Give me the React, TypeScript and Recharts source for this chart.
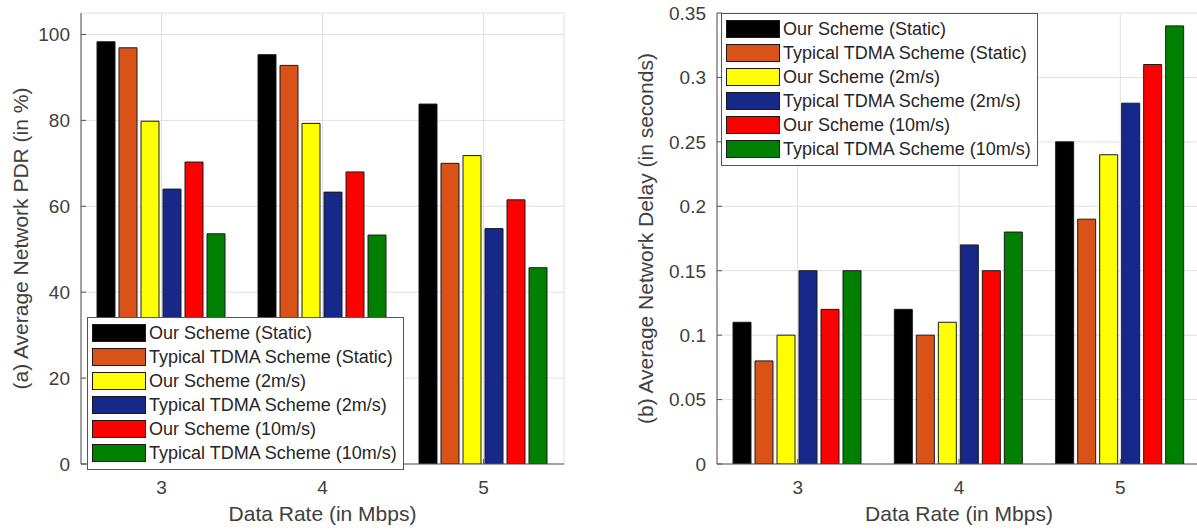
import React from 'react';
import { BarChart, Bar, XAxis, YAxis, CartesianGrid, Legend } from 'recharts';

const rates = ['3', '4', '5'];

const seriesNames = [
  'Our Scheme (Static)',
  'Typical TDMA Scheme (Static)',
  'Our Scheme (2m/s)',
  'Typical TDMA Scheme (2m/s)',
  'Our Scheme (10m/s)',
  'Typical TDMA Scheme (10m/s)',
];
const seriesColors = ['#000000', '#D95319', '#FFFF00', '#16298A', '#FF0000', '#008000'];

// (a) average network PDR, %
const pdrOurStatic = [98.3, 95.3, 83.8];
const pdrTdmaStatic = [96.9, 92.8, 70.0];
const pdrOur2 = [79.8, 79.3, 71.8];
const pdrTdma2 = [64.0, 63.3, 54.8];
const pdrOur10 = [70.3, 68.0, 61.5];
const pdrTdma10 = [53.6, 53.3, 45.7];

// (b) average network delay, seconds
const delayOurStatic = [0.11, 0.12, 0.25];
const delayTdmaStatic = [0.08, 0.1, 0.19];
const delayOur2 = [0.1, 0.11, 0.24];
const delayTdma2 = [0.15, 0.17, 0.28];
const delayOur10 = [0.12, 0.15, 0.31];
const delayTdma10 = [0.15, 0.18, 0.34];

const pdrTicks = [0, 20, 40, 60, 80, 100];
const delayTicks = [0, 0.05, 0.1, 0.15, 0.2, 0.25, 0.3, 0.35];

const FONT = '"Liberation Sans", Arial, Helvetica, sans-serif';
const FRAME = '#555555';
const TEXT = '#404040';
const GRID = '#e0e0e0';
const TICK_LEN = 5;

const buildRows = (series: number[][]) =>
  rates.map((rate, i) => {
    const row: Record<string, string | number> = { rate };
    series.forEach((s, k) => {
      row['s' + k] = s[i];
    });
    return row;
  });

const pdrData = buildRows([pdrOurStatic, pdrTdmaStatic, pdrOur2, pdrTdma2, pdrOur10, pdrTdma10]);
const delayData = buildRows([delayOurStatic, delayTdmaStatic, delayOur2, delayTdma2, delayOur10, delayTdma10]);

const LeftTick = (props: any) => {
  const { x, y, payload } = props;
  const m = 11;
  return (
    <g>
      <line x1={x + m} x2={x + m + TICK_LEN} y1={y} y2={y} stroke={FRAME} />
      <text x={x} y={y} dy="0.36em" textAnchor="end" fontSize={19} fill={TEXT} fontFamily={FONT}>
        {payload.value}
      </text>
    </g>
  );
};

const BottomTick = (props: any) => {
  const { x, y, payload } = props;
  const m = 17;
  return (
    <g>
      <line x1={x} x2={x} y1={y - m} y2={y - m - TICK_LEN} stroke={FRAME} />
      <text x={x} y={y} dy="0.71em" textAnchor="middle" fontSize={19} fill={TEXT} fontFamily={FONT}>
        {payload.value}
      </text>
    </g>
  );
};

const TopTick = (props: any) => {
  const { x, y } = props;
  return <line x1={x} x2={x} y1={y} y2={y + TICK_LEN} stroke={FRAME} />;
};

const RightTick = (props: any) => {
  const { x, y } = props;
  return <line x1={x} x2={x - TICK_LEN} y1={y} y2={y} stroke={FRAME} />;
};

const yTitle = (text: string, baseX: number) => (props: any) => {
  const vb = props.viewBox || {};
  const cy = vb.y + vb.height / 2;
  return (
    <text
      x={baseX}
      y={cy}
      transform={`rotate(-90, ${baseX}, ${cy})`}
      textAnchor="middle"
      fontSize={21}
      fill={TEXT}
      fontFamily={FONT}
    >
      {text}
    </text>
  );
};

const LegendBox = (props: any) => {
  const { payload, swatchW } = props;
  // keep the series order, not the alphabetical one
  const items = [...(payload || [])].sort(
    (a: any, b: any) => seriesNames.indexOf(a.value) - seriesNames.indexOf(b.value)
  );
  return (
    <div
      style={{
        background: '#ffffff',
        border: `1px solid ${FRAME}`,
        padding: '3px 6px 4px 4px',
        fontFamily: FONT,
        fontSize: 18,
        color: '#262626',
        whiteSpace: 'nowrap',
      }}
    >
      {items.map((entry: any) => (
        <div key={entry.value} style={{ display: 'flex', alignItems: 'center', height: 24 }}>
          <span
            style={{
              display: 'inline-block',
              width: swatchW,
              height: 18,
              background: entry.color,
              border: '1px solid #1a1a1a',
              boxSizing: 'border-box',
              marginRight: 3,
            }}
          />
          <span>{entry.value}</span>
        </div>
      ))}
    </div>
  );
};

interface PanelProps {
  data: Record<string, string | number>[];
  width: number;
  axisWidth: number;
  rightMargin: number;
  domain: [number, number];
  ticks: number[];
  title: string;
  titleX: number;
  legendLeft: number;
  legendTop: number;
}

const Panel = ({ data, width, axisWidth, rightMargin, domain, ticks, title, titleX, legendLeft, legendTop }: PanelProps) => (
  <BarChart
    width={width}
    height={530}
    data={data}
    margin={{ top: 13, right: rightMargin, bottom: 0, left: 0 }}
    barCategoryGap={16}
    barGap={4}
  >
    <CartesianGrid stroke={GRID} />
    <XAxis
      dataKey="rate"
      height={66}
      tickSize={0}
      tickMargin={17}
      tickLine={false}
      axisLine={{ stroke: FRAME }}
      tick={<BottomTick />}
      label={{ value: 'Data Rate (in Mbps)', position: 'insideTop', offset: 42, fontSize: 21, fill: TEXT, fontFamily: FONT }}
    />
    <XAxis
      xAxisId="top"
      dataKey="rate"
      orientation="top"
      height={0}
      tickSize={0}
      tickMargin={0}
      tickLine={false}
      axisLine={{ stroke: FRAME }}
      tick={<TopTick />}
    />
    <YAxis
      width={axisWidth}
      domain={domain}
      ticks={ticks}
      allowDataOverflow
      tickSize={0}
      tickMargin={11}
      tickLine={false}
      axisLine={{ stroke: FRAME }}
      tick={<LeftTick />}
      label={yTitle(title, titleX)}
    />
    <YAxis
      yAxisId="right"
      orientation="right"
      width={0}
      domain={domain}
      ticks={ticks}
      allowDataOverflow
      tickSize={0}
      tickMargin={0}
      tickLine={false}
      axisLine={{ stroke: FRAME }}
      tick={<RightTick />}
    />
    {seriesNames.map((name, k) => (
      <Bar
        key={name}
        dataKey={'s' + k}
        name={name}
        fill={seriesColors[k]}
        stroke="#1a1a1a"
        strokeWidth={1}
        isAnimationActive={false}
      />
    ))}
    <Legend
      layout="vertical"
      align="center"
      verticalAlign="middle"
      wrapperStyle={{ left: legendLeft, top: legendTop, width: 'auto', height: 'auto' }}
      content={(p: any) => <LegendBox {...p} swatchW={54} />}
    />
  </BarChart>
);

export default function App() {
  return (
    <div
      style={{
        position: 'fixed',
        left: 0,
        top: 0,
        width: 1197,
        height: 530,
        overflow: 'hidden',
        background: '#ffffff',
        fontFamily: FONT,
      }}
    >
      <div style={{ position: 'absolute', left: 0, top: 0 }}>
        <Panel
          data={pdrData}
          width={600}
          axisWidth={81}
          rightMargin={36}
          domain={[0, 105]}
          ticks={pdrTicks}
          title="(a) Average Network PDR (in %)"
          titleX={28}
          legendLeft={87}
          legendTop={317}
        />
      </div>
      <div style={{ position: 'absolute', left: 600, top: 0 }}>
        <Panel
          data={delayData}
          width={610}
          axisWidth={117}
          rightMargin={9}
          domain={[0, 0.35]}
          ticks={delayTicks}
          title="(b) Average Network Delay (in seconds)"
          titleX={53}
          legendLeft={121}
          legendTop={13}
        />
      </div>
    </div>
  );
}
